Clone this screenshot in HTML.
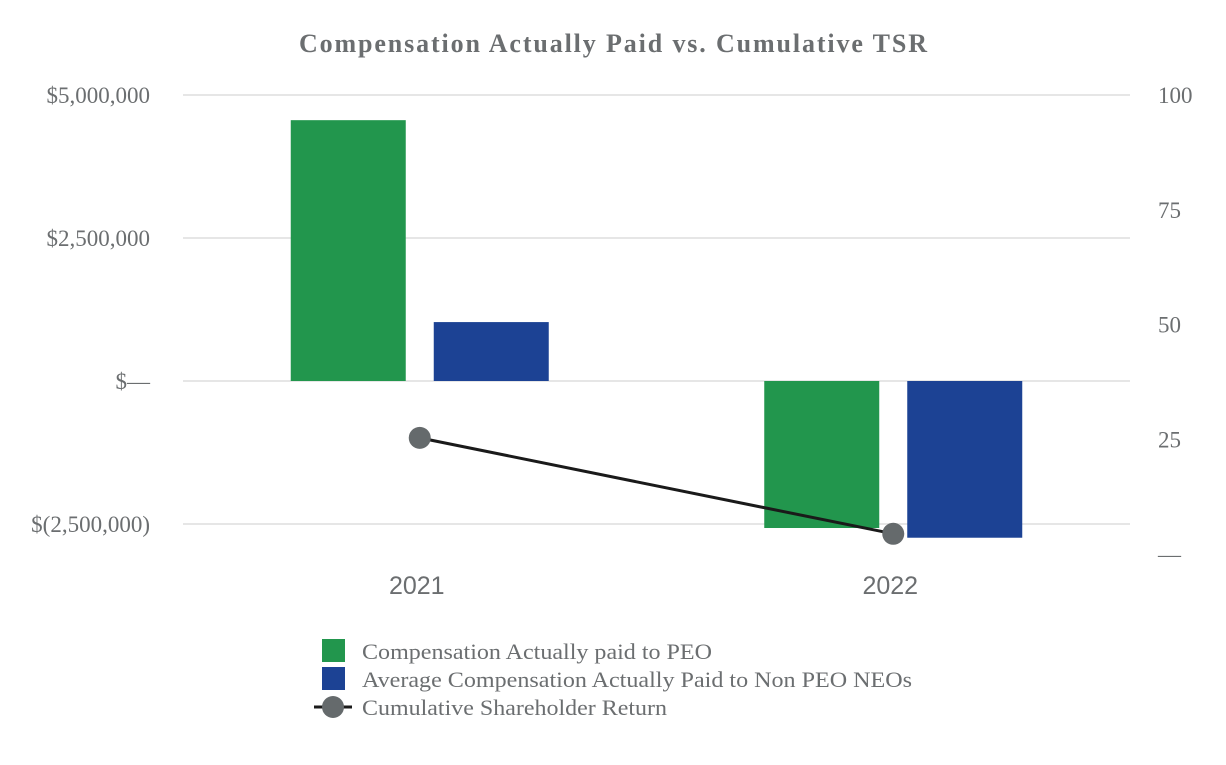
<!DOCTYPE html>
<html><head><meta charset="utf-8"><style>
body{margin:0;background:#fff;}
svg text{font-family:"Liberation Serif",serif;}
</style></head><body>
<svg id="chart" width="1226" height="760">
<text x="613" y="52" text-anchor="middle" font-size="26" font-weight="bold" fill="#6b6e70" textLength="628" lengthAdjust="spacing">Compensation Actually Paid vs. Cumulative TSR</text>
<g id="grid"></g><g id="bars"></g><g id="line"></g><g id="axes"></g>
<g>
<rect x="322" y="639" width="23" height="23" fill="#22964d"/>
<text x="362" y="659" font-size="22" fill="#6b6e70" textLength="350" lengthAdjust="spacingAndGlyphs">Compensation Actually paid to PEO</text>
<rect x="322" y="667" width="23" height="23" fill="#1c4294"/>
<text x="362" y="687" font-size="22" fill="#6b6e70" textLength="550" lengthAdjust="spacingAndGlyphs">Average Compensation Actually Paid to Non PEO NEOs</text>
<line x1="314" y1="707" x2="352" y2="707" stroke="#1a1a1a" stroke-width="3"/>
<circle cx="333" cy="707" r="11" fill="#656a6c"/>
<text x="362" y="715" font-size="22" fill="#6b6e70" textLength="305" lengthAdjust="spacingAndGlyphs">Cumulative Shareholder Return</text>
</g>
</svg>
<script>
const categories=["2021","2022"];
const peoValues=[4560000,-2570000];
const nonPeoValues=[1030000,-2740000];
const tsrValues=[25.3,4.4];
const leftTicks=[5000000,2500000,0,-2500000];
const leftTickLabels=["$5,000,000","$2,500,000","$—","$(2,500,000)"];
const rightTicks=[100,75,50,25,0];
const rightTickLabels=["100","75","50","25","—"];
const NS="http://www.w3.org/2000/svg";
const x0=183,x1=1130;
const yL=v=>381-v/2500000*143;
const yR=v=>554-v/25*114.75;
const band=(x1-x0)/categories.length;
const xc=i=>x0+band*(i+0.5);
function mk(tag,attrs,parent){const e=document.createElementNS(NS,tag);for(const k in attrs)e.setAttribute(k,attrs[k]);document.getElementById(parent).appendChild(e);return e;}
leftTicks.forEach((t,i)=>{
 const g=mk("line",{x1:x0,x2:x1,y1:yL(t),y2:yL(t),stroke:"#e6e6e6","stroke-width":2},"grid");
 
 
 const l=mk("text",{x:150,y:yL(t)+8,"text-anchor":"end","font-size":23,fill:"#6b6e70"},"axes");
 l.textContent=leftTickLabels[i];
 
 
});
rightTicks.forEach((t,i)=>{
 const l=mk("text",{x:1158,y:yR(t)+8,"font-size":23,fill:"#6b6e70"},"axes");
 l.textContent=rightTickLabels[i];
 
 
});
const bw=115,gap=28;
categories.forEach((c,i)=>{
 const cx=xc(i);
 [[peoValues[i],"#22964d",cx-gap/2-bw,"bar-peo-"+c],[nonPeoValues[i],"#1c4294",cx+gap/2,"bar-non-peo-"+c]].forEach(([v,col,x,n])=>{
  const y=Math.min(yL(v),yL(0)),h=Math.abs(yL(v)-yL(0));
  const r=mk("rect",{x:x,y:y,width:bw,height:h,fill:col},"bars");
  
  
 });
 const t=mk("text",{x:cx-3,y:594,"text-anchor":"middle","font-size":25,fill:"#6b6e70"},"axes");
 t.setAttribute("style","font-family:'Liberation Sans',sans-serif");
 t.textContent=c;
 
 
});
const pl=mk("polyline",{points:tsrValues.map((v,i)=>xc(i)+","+yR(v)).join(" "),fill:"none",stroke:"#1a1a1a","stroke-width":3},"line");


tsrValues.forEach((v,i)=>{
 const c=mk("circle",{cx:xc(i),cy:yR(v),r:11,fill:"#656a6c"},"line");
 
 
});
</script>
</body></html>
